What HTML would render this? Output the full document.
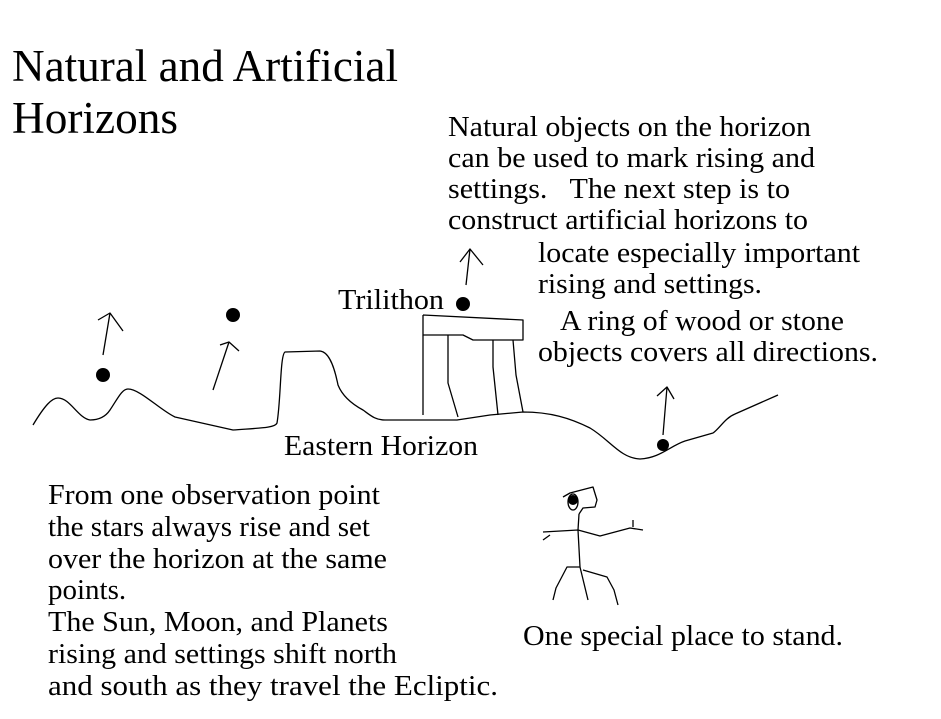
<!DOCTYPE html>
<html><head><style>
html,body{margin:0;padding:0;background:#fff;}
svg{display:block;}
text{font-family:"Liberation Serif",serif;fill:#000;}
</style></head><body>
<svg width="941" height="719" viewBox="0 0 941 719" xmlns="http://www.w3.org/2000/svg">
<g font-size="45">
<text x="12" y="81" textLength="386" lengthAdjust="spacingAndGlyphs">Natural and Artificial</text>
<text x="12" y="133" textLength="166" lengthAdjust="spacingAndGlyphs">Horizons</text>
</g>
<g font-size="29">
<text x="448" y="136" textLength="363" lengthAdjust="spacingAndGlyphs">Natural objects on the horizon</text>
<text x="448" y="167" textLength="367" lengthAdjust="spacingAndGlyphs">can be used to mark rising and</text>
<text x="448" y="198" textLength="342" lengthAdjust="spacingAndGlyphs" xml:space="preserve">settings.   The next step is to</text>
<text x="448" y="229" textLength="360" lengthAdjust="spacingAndGlyphs">construct artificial horizons to</text>
<text x="538" y="262" textLength="322" lengthAdjust="spacingAndGlyphs">locate especially important</text>
<text x="538" y="293" textLength="224" lengthAdjust="spacingAndGlyphs">rising and settings.</text>
<text x="560" y="330" textLength="284" lengthAdjust="spacingAndGlyphs">A ring of wood or stone</text>
<text x="538" y="361" textLength="340" lengthAdjust="spacingAndGlyphs">objects covers all directions.</text>
<text x="338" y="309" textLength="106" lengthAdjust="spacingAndGlyphs">Trilithon</text>
<text x="284" y="455" textLength="194" lengthAdjust="spacingAndGlyphs">Eastern Horizon</text>
<text x="48" y="504" textLength="332" lengthAdjust="spacingAndGlyphs">From one observation point</text>
<text x="48" y="536" textLength="322" lengthAdjust="spacingAndGlyphs">the stars always rise and set</text>
<text x="48" y="568" textLength="339" lengthAdjust="spacingAndGlyphs">over the horizon at the same</text>
<text x="48" y="599">points.</text>
<text x="48" y="631" textLength="340" lengthAdjust="spacingAndGlyphs">The Sun, Moon, and Planets</text>
<text x="48" y="663" textLength="349" lengthAdjust="spacingAndGlyphs">rising and settings shift north</text>
<text x="48" y="695" textLength="450" lengthAdjust="spacingAndGlyphs">and south as they travel the Ecliptic.</text>
<text x="523" y="645" textLength="320" lengthAdjust="spacingAndGlyphs">One special place to stand.</text>
</g>
<g fill="none" stroke="#000" stroke-width="1.3" stroke-linejoin="round">
<path d="M33,425 C45,405 52,398 58,398 C70,398 78,418 90,420 C100,420 106,416 110,410 C118,398 122,389 128,389 C140,389 160,410 175,417 L233,430 C260,428 275,428 277,423 C281,400 280,355 285,352 L320,351 C330,352 335,370 338,385 C342,395 350,403 363,410 C370,415 375,420 385,420 L457,420 L490,415 L523,412 C550,412 570,418 590,428 C610,440 620,458 640,459 C660,458 670,446 685,441 L713,433 C720,428 725,418 735,414 L778,395"/>
<polyline points="423,315 523,320 523,340 473,340 463,335 423,335 423,315"/>
<line x1="423" y1="335" x2="423" y2="415"/>
<polyline points="448,335 448,383 458,417"/>
<polyline points="493,340 493,367 498,415"/>
<polyline points="513,340 516,375 523,412"/>
<line x1="103" y1="355" x2="110" y2="313"/><polyline points="98,320 110,313 123,331"/>
<line x1="213" y1="390" x2="229" y2="342"/><polyline points="220,345 229,342 239,351"/>
<line x1="466" y1="285" x2="470" y2="249"/><polyline points="460,262 470,249 483,265"/>
<line x1="663" y1="435" x2="667" y2="387"/><polyline points="657,396 667,387 674,399"/>
<polyline points="563,497 570,493 593,487 597,500 595,507 583,508 579,514"/>
<ellipse cx="573" cy="502" rx="5" ry="8"/>
<polyline points="579,514 578,530 580,567 588,600"/>
<polyline points="543,532 578,530 600,536 630,528 643,530"/>
<line x1="633" y1="520" x2="633" y2="527"/>
<line x1="543" y1="540" x2="550" y2="535"/>
<polyline points="580,567 567,567 556,588 553,600"/>
<polyline points="583,570 607,577 614,590 618,605"/>
</g>
<g fill="#000">
<circle cx="103" cy="375" r="7"/>
<circle cx="233" cy="315" r="7"/>
<circle cx="463" cy="304" r="7"/>
<circle cx="663" cy="445" r="6"/>
<circle cx="573" cy="500" r="5"/>
</g>
</svg>
</body></html>
